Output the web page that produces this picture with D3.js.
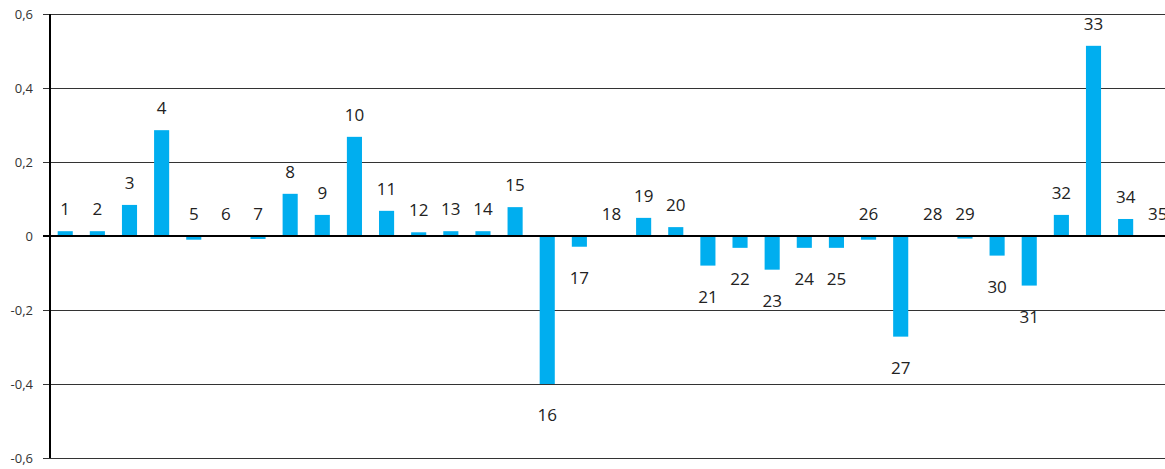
<!DOCTYPE html>
<html>
<head>
<meta charset="utf-8">
<script src="https://cdn.jsdelivr.net/npm/d3@7"></script>
<style>
  body { margin: 0; background: #fff; }
  svg { display: block; }
</style>
</head>
<body>
<div id="chart"></div>
<script>
// Data
var categories = d3.range(1, 36).map(String);
var values = [0.013, 0.013, 0.084, 0.286, -0.010, 0, -0.008, 0.114, 0.057, 0.268,
              0.068, 0.010, 0.013, 0.013, 0.078, -0.400, -0.029, 0, 0.049, 0.024,
              -0.080, -0.032, -0.091, -0.032, -0.032, -0.010, -0.272, 0, -0.007, -0.053,
              -0.134, 0.057, 0.514, 0.046, 0];
var yTicks = [-0.6, -0.4, -0.2, 0, 0.2, 0.4, 0.6];
var yTickLabels = ["-0,6", "-0,4", "-0,2", "0", "0,2", "0,4", "0,6"];

var width = 1165, height = 469;

var svg = d3.select("#chart").append("svg")
    .attr("width", width)
    .attr("height", height);

// Scales (the plot runs a bit past the right edge of the window)
var x = d3.scaleBand()
    .domain(categories)
    .range([49, 1174])
    .paddingInner(0.53)
    .paddingOuter(0.27);

var y = d3.scaleLinear()
    .domain([-0.6, 0.6])
    .range([458, 14]);

// Gridlines
svg.append("g")
    .selectAll("line")
    .data(yTicks.filter(function(d) { return d !== 0; }))
    .enter().append("line")
    .attr("x1", 43)
    .attr("x2", width)
    .attr("y1", function(d) { return Math.round(y(d)) + 0.5; })
    .attr("y2", function(d) { return Math.round(y(d)) + 0.5; })
    .style("stroke", "#333")
    .style("stroke-width", 1);

// Y axis labels
var yAxis = d3.axisLeft(y)
    .tickValues(yTicks)
    .tickSize(0)
    .tickPadding(0)
    .tickFormat(function(d, i) { return yTickLabels[i]; });

var ax = svg.append("g")
    .attr("transform", "translate(33,0)")
    .call(yAxis);
ax.select(".domain").remove();
ax.selectAll("text")
    .style("font-family", "'Open Sans', sans-serif")
    .style("font-size", "13px")
    .style("fill", "#333");

// Bars
svg.append("g")
    .selectAll("rect")
    .data(values)
    .enter().append("rect")
    .attr("x", function(d, i) { return x(categories[i]); })
    .attr("width", x.bandwidth())
    .attr("y", function(d) { return y(Math.max(d, 0)); })
    .attr("height", function(d) { return Math.abs(y(d) - y(0)); })
    .style("fill", "#00aeef");

// Zero line and vertical axis
svg.append("line")
    .attr("x1", 43).attr("x2", width)
    .attr("y1", y(0)).attr("y2", y(0))
    .style("stroke", "#000")
    .style("stroke-width", 2);

svg.append("line")
    .attr("x1", 50).attr("x2", 50)
    .attr("y1", y(0.6)).attr("y2", y(-0.6))
    .style("stroke", "#000")
    .style("stroke-width", 2);

// Bar labels
svg.append("g")
    .selectAll("text")
    .data(values)
    .enter().append("text")
    .attr("x", function(d, i) { return x(categories[i]) + x.bandwidth() / 2; })
    .attr("y", function(d) {
        if (d < -0.015) return y(d) + 37;
        return y(Math.max(d, 0)) - 16;
    })
    .attr("text-anchor", "middle")
    .style("font-family", "'Open Sans', sans-serif")
    .style("font-size", "17px")
    .style("fill", "#222")
    .text(function(d, i) { return categories[i]; });
</script>
</body>
</html>
